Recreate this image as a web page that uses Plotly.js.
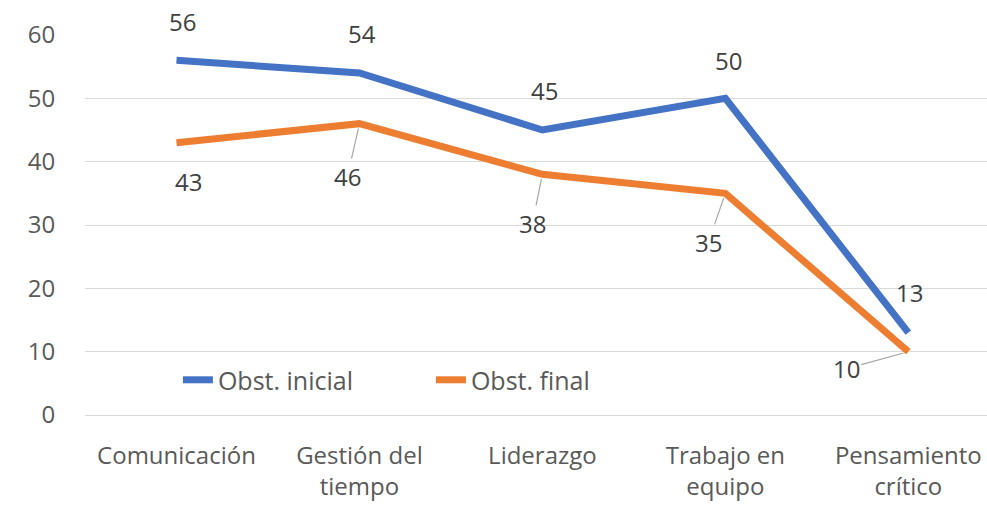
<!DOCTYPE html>
<html>
<head>
<meta charset="utf-8">
<script src="https://cdn.plot.ly/plotly-3.0.1.min.js"></script>
<style>html,body{margin:0;padding:0;background:#fff;}#chart{width:987px;height:505px;}</style>
</head>
<body>
<div id="chart"></div>
<script>
const categories = ['Comunicación', 'Gestión del<br>tiempo', 'Liderazgo', 'Trabajo en<br>equipo', 'Pensamiento<br>crítico'];
const obsInicial = [56, 54, 45, 50, 13];
const obsFinal = [43, 46, 38, 35, 10];
const seriesNames = ['Obst. inicial', 'Obst. final'];
const yTicks = [0, 10, 20, 30, 40, 50, 60];

// label offsets (pixels) relative to each point
const offInicial = [[6, -39], [3, -40], [2, -40], [3, -38], [1, -40]];
const offFinal = [[12, 39], [-12, 53], [-10, 49], [-17, 49], [-62, 17]];
const leaderFinal = [false, true, true, true, true];

const FONT = '"Open Sans", sans-serif';
const TXT = '#595959';

const traces = [
  {x: categories, y: obsInicial, name: seriesNames[0], type: 'scatter', mode: 'lines',
   line: {color: '#4472C4', width: 7}},
  {x: categories, y: obsFinal, name: seriesNames[1], type: 'scatter', mode: 'lines',
   line: {color: '#ED7D31', width: 7}}
];

const annotations = [];
obsInicial.forEach((v, i) => {
  annotations.push({x: categories[i], y: v, xref: 'x', yref: 'y', text: String(v),
    showarrow: true, arrowcolor: 'rgba(0,0,0,0)', arrowwidth: 0.1, arrowhead: 0,
    ax: offInicial[i][0], ay: offInicial[i][1],
    font: {family: FONT, size: 24, color: '#404040'}});
});
obsFinal.forEach((v, i) => {
  annotations.push({x: categories[i], y: v, xref: 'x', yref: 'y', text: String(v),
    showarrow: true, arrowcolor: leaderFinal[i] ? '#a6a6a6' : 'rgba(0,0,0,0)', arrowwidth: 1.2, arrowhead: 0,
    standoff: 5,
    ax: offFinal[i][0], ay: offFinal[i][1],
    font: {family: FONT, size: 24, color: '#404040'}});
});

const layout = {
  width: 987, height: 505,
  margin: {l: 85, r: 0, t: 35, b: 90},
  paper_bgcolor: '#ffffff', plot_bgcolor: '#ffffff',
  font: {family: FONT, color: TXT},
  showlegend: true,
  legend: {orientation: 'h', x: 0.103, y: 0.092, xanchor: 'left', yanchor: 'middle',
    font: {family: FONT, size: 25, color: TXT}, bgcolor: 'rgba(0,0,0,0)',
    entrywidth: 208, entrywidthmode: 'pixels'},
  xaxis: {type: 'category', range: [-0.5, 4.43], showgrid: false, zeroline: false,
    showline: false, ticks: 'outside', ticklen: 19, tickcolor: 'rgba(0,0,0,0)',
    tickfont: {family: FONT, size: 24, color: TXT}, fixedrange: true},
  yaxis: {range: [0, 60], tickvals: yTicks, showgrid: true, gridcolor: '#d9d9d9', gridwidth: 1,
    zeroline: true, zerolinecolor: '#d9d9d9', zerolinewidth: 1, showline: false,
    ticks: 'outside', ticklen: 24, tickcolor: 'rgba(0,0,0,0)',
    tickfont: {family: FONT, size: 24, color: TXT}, fixedrange: true},
  annotations: annotations
};

Plotly.newPlot('chart', traces, layout, {displayModeBar: false, staticPlot: true});
</script>
</body>
</html>
